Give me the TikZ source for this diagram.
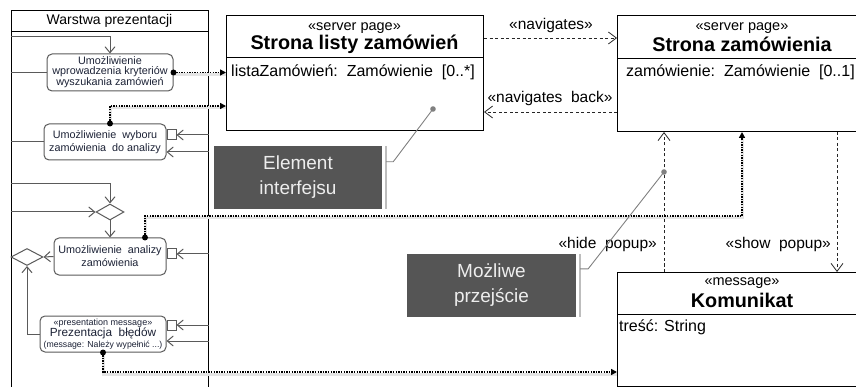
\documentclass[tikz,border=0pt]{standalone}
\usepackage{fontspec}
\setmainfont{Liberation Sans}
\usetikzlibrary{arrows.meta,calc,shapes.geometric}
\definecolor{laneink}{HTML}{1C2236}
\definecolor{actedge}{HTML}{5A5A5A}
\definecolor{notefill}{HTML}{555555}
\definecolor{notebar}{HTML}{BDBDBD}
\definecolor{noteline}{HTML}{808080}
\newcommand{\fs}[2]{\fontsize{#1}{#2}\selectfont}
\tikzset{
  lanebox/.style={draw=black, line width=0.9pt, inner sep=0pt},
  act/.style={draw=actedge, line width=1pt, rounded corners=5pt, fill=white, align=center, text=laneink, inner sep=0pt},
  pinbox/.style={draw=actedge, line width=1pt, fill=white, minimum width=9pt, minimum height=10pt, inner sep=0pt},
  gate/.style={diamond, draw=actedge, line width=1pt, fill=white, inner sep=0pt, minimum width=28pt, minimum height=16pt},
  flow/.style={draw=actedge, line width=1pt, -{Straight Barb[length=6pt,width=10pt]}},
  edge/.style={draw=actedge, line width=1pt},
  uiclass/.style={draw=black, line width=1pt, anchor=north west, inner sep=0pt},
  divider/.style={draw=black, line width=1pt},
  stereo/.style={font=\fs{14.5}{16}, inner sep=0pt},
  cname/.style={font=\bfseries\fs{19.8}{22}, inner sep=0pt},
  attr/.style={font=\fs{16}{18}, anchor=west, inner sep=0pt},
  nav/.style={draw=black!85, line width=0.8pt, dash pattern=on 3pt off 2.5pt, -{Straight Barb[length=8pt,width=12pt]}},
  navlabel/.style={font=\fs{15.5}{17}, inner sep=0pt},
  uilink/.style={draw=black, line width=1.8pt, dash pattern=on 1.4pt off 1.2pt,
    -{Triangle[length=6pt,width=6pt]},
    preaction={draw=black!10, line width=3pt, solid, -, transform canvas={yshift=-2pt}}},
  uidot/.style={fill=black},
  note/.style={fill=notefill, text=white!93!black, align=center, font=\fs{19}{25}, inner sep=0pt},
  notebarline/.style={draw=notebar, line width=1.6pt},
  notelink/.style={draw=noteline, line width=0.9pt},
}
\begin{document}
\begin{tikzpicture}[x=1pt,y=-1pt]
\useasboundingbox (0,0) rectangle (856,387);
\clip (0,0) rectangle (856,387);

% ---- swimlane "Warstwa prezentacji" ----
\node[lanebox, anchor=north west, minimum width=197pt, minimum height=395pt] (lane) at (11,10) {};
\draw[lanebox] (lane.north west) ++(0,21) -- ++(197,0);
\node[font=\fs{14}{16}, inner sep=0pt] (lanetitle) at (109.5,20.5) {Warstwa prezentacji};

% activities
\node[act, minimum width=126pt, minimum height=37pt, font=\fs{10.8}{9.5}] (act1) at (110,72.5)
  {Umożliwienie\\wprowadzenia kryteriów\\wyszukania zamówień};
\node[act, minimum width=122pt, minimum height=36pt, font=\fs{10.8}{13}] (act2) at (105,142)
  {Umożliwienie\ \ wyboru\\zamówienia\ \ do analizy};
\node[gate] (merge) at (110,212) {};
\node[act, minimum width=112pt, minimum height=37pt, font=\fs{10.8}{13}] (act3) at (110,256.5)
  {Umożliwienie\ \ analizy\\zamówienia};
\node[gate, minimum width=32pt, minimum height=17pt] (decide) at (27,257) {};
\node[act, minimum width=126pt, minimum height=36pt] (act4) at (103,334)
  {{\fs{9}{10}«presentation message»}\\[-1pt]{\fs{11.8}{13}Prezentacja\ \ błędów}\\[-1pt]{\fs{8.7}{10}(message: Należy wypełnić ...)}};

% input pins
\node[pinbox, anchor=west] (pin2) at (act2.east |- 0,135) {};
\node[pinbox, anchor=west] (pin3) at (act3.east |- 0,254) {};
\node[pinbox, anchor=west] (pin4) at (act4.east |- 0,325) {};

% control flows
\draw[flow] (lane.west |- 0,37) -| (act1.north);
\draw[edge] (lane.west |- act1) -- (act1.west);
\draw[edge] (lane.west |- act2) -- (act2.west);
\draw[flow] (lane.east |- pin2) -- (pin2.east);
\draw[flow] (lane.east |- 0,152) -- (act2.east |- 0,152);
\draw[flow] (lane.west |- 0,184) -| (merge.north);
\draw[flow] (lane.west |- merge) -- (merge.west);
\draw[flow] (merge.south) -- (act3.north);
\draw[flow] (lane.east |- pin3) -- (pin3.east);
\draw[flow] (act3.west) -- (decide.east);
\draw[flow] (lane.east |- pin4) -- (pin4.east);
\draw[flow] (lane.east |- 0,341) -- (act4.east |- 0,341);
\draw[flow] (act4.west) -| (decide.south);

% ---- server pages ----
\node[uiclass, minimum width=257pt, minimum height=115pt] (listPage) at (226,15) {};
\draw[divider] (listPage.north west) ++(0,43) -- ++(257,0);
\node[stereo] (listStereo) at (354.5,28) {«server page»};
\node[cname] (listName) at (354.5,44) {Strona listy zamówień};
\node[attr] (listAttr) at (231,72) {listaZamówień:\ \ Zamówienie\ \ [0..*]};

\node[uiclass, minimum width=245pt, minimum height=116pt] (orderPage) at (617,15) {};
\draw[divider] (orderPage.north west) ++(0,44) -- ++(245,0);
\node[stereo] (orderStereo) at (742,28) {«server page»};
\node[cname] (orderName) at (742,44) {Strona zamówienia};
\node[attr] (orderAttr) at (626,72) {zamówienie:\ \ Zamówienie\ \ [0..1]};

% ---- message ----
\node[uiclass, minimum width=245pt, minimum height=114pt] (msgBox) at (617,272) {};
\draw[divider] (msgBox.north west) ++(0,42) -- ++(245,0);
\node[stereo] (msgStereo) at (742,283) {«message»};
\node[cname] (msgName) at (742,300) {Komunikat};
\node[attr] (msgAttr) at (619,327) {treść: String};

% ---- navigation ----
\draw[nav] (listPage.east |- 0,38) -- (orderPage.west |- 0,38);
\node[navlabel] (navLbl) at (551,25) {«navigates»};
\draw[nav] (orderPage.west |- 0,112) -- (listPage.east |- 0,112);
\node[navlabel] (backLbl) at (550,98) {«navigates\ \ back»};
\draw[nav] (msgBox.north -| 664,0) -- (orderPage.south -| 664,0);
\node[navlabel, anchor=east] (hideLbl) at (657,244) {«hide\ \ popup»};
\draw[nav] (orderPage.south -| 837,0) -- (msgBox.north -| 837,0);
\node[navlabel, anchor=east] (showLbl) at (831,244) {«show\ \ popup»};

% ---- links from activities to UI elements ----
\draw[uilink] (act1.east) -- (listPage.west |- act1.east);
\fill[uidot] (act1.east) circle (3);
\draw[uilink] (act1.north |- act2.north) |- (listPage.west |- 0,106);
\fill[uidot] (act1.north |- act2.north) circle (3);
\draw[uilink] (act3.north -| 145,0) |- (742,216) -- (orderPage.south -| 742,0);
\fill[uidot] (act3.north -| 145,0) circle (3);
\draw[uilink] (act4.south) |- (msgBox.west |- 0,372);
\fill[uidot] (act4.south) circle (3);

% ---- annotation notes ----
\node[note, minimum width=168pt, minimum height=63pt] (note1) at (298,177.5) {Element\\interfejsu};
\draw[notebarline] ($(note1.north east)+(4,0)$) -- ($(note1.south east)+(4,0)$);
\coordinate (tip1) at (433,109);
\draw[notelink] ($(note1.north east)+(4,16)$) -- ++(7,0) -- (tip1);
\fill[noteline] (tip1) circle (2.8);

\node[note, minimum width=169pt, minimum height=63pt] (note2) at (491.5,285.5) {Możliwe\\przejście};
\draw[notebarline] ($(note2.north east)+(4,0)$) -- ($(note2.south east)+(4,0)$);
\coordinate (tip2) at (664,172);
\draw[notelink] ($(note2.north east)+(4,15)$) -- ++(8,0) -- (tip2);
\fill[noteline] (tip2) circle (2.8);
\end{tikzpicture}
\end{document}
